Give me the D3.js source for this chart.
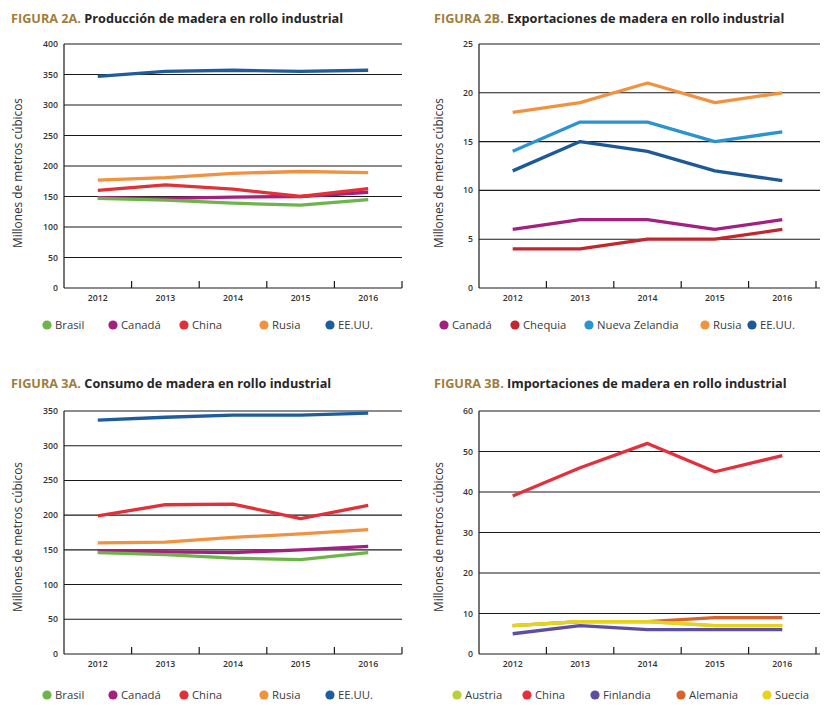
<!DOCTYPE html>
<html><head><meta charset="utf-8">
<script src="https://cdn.jsdelivr.net/npm/d3@7"></script>
<style>body{margin:0;background:#fff}svg{display:block}</style>
</head><body>
<svg id="c" width="824" height="706"></svg>
<script>
const years = ["2012","2013","2014","2015","2016"];

// FIGURA 2A - Producción
const prodSeries = ["Brasil","Canadá","China","Rusia","EE.UU."];
const prodBrasil = [147,144,139,136,145];
const prodCanada = [148,147,149,150,157];
const prodChina  = [160,169,162,150,163];
const prodRusia  = [177,181,188,191,189];
const prodEEUU   = [347,355,357,355,357];
const prodTicks  = [0,50,100,150,200,250,300,350,400];

// FIGURA 2B - Exportaciones
const expSeries = ["Canadá","Chequia","Nueva Zelandia","Rusia","EE.UU."];
const expCanada  = [6,7,7,6,7];
const expChequia = [4,4,5,5,6];
const expNZ      = [14,17,17,15,16];
const expRusia   = [18,19,21,19,20];
const expEEUU    = [12,15,14,12,11];
const expTicks   = [0,5,10,15,20,25];

// FIGURA 3A - Consumo
const conSeries = ["Brasil","Canadá","China","Rusia","EE.UU."];
const conBrasil = [146,143,138,136,146];
const conCanada = [148,147,146,150,155];
const conChina  = [199,215,216,195,214];
const conRusia  = [160,161,168,173,179];
const conEEUU   = [337,341,344,344,347];
const conTicks  = [0,50,100,150,200,250,300,350];

// FIGURA 3B - Importaciones
const impSeries = ["Austria","China","Finlandia","Alemania","Suecia"];
const impAustria  = [7,8,8,7,7];
const impChina    = [39,46,52,45,49];
const impFinland  = [5,7,6,6,6];
const impAlemania = [7,8,8,9,9];
const impSuecia   = [7,8,8,7,7];
const impTicks    = [0,10,20,30,40,50,60];

const svg = d3.select("#c");
const FONT = "'Open Sans', 'Noto Sans', sans-serif";

function panel(o){
  const g = svg.append("g");
  // title
  const t = g.append("text").attr("x", o.tx).attr("y", o.ty)
    .attr("font-family", FONT).attr("font-weight", 700).attr("font-size", 12.7);
  t.append("tspan").attr("fill", "#a07d3c").text(o.fig + ". ");
  t.append("tspan").attr("fill", "#262626").text(o.title);

  const x = d3.scaleBand().domain(years).range([o.x0, o.x1]);
  const y = d3.scaleLinear().domain([0, o.ticks[o.ticks.length-1]]).range([o.y0, o.y1]);

  // gridlines
  g.append("g").selectAll("line").data(o.ticks).join("line")
    .attr("x1", o.x0).attr("x2", o.gx1)
    .attr("y1", d => y(d)).attr("y2", d => y(d))
    .attr("stroke", "#1a1a1a").attr("stroke-width", 1.1);
  // y axis line
  g.append("line").attr("x1", o.x0).attr("x2", o.x0).attr("y1", y(o.ticks[o.ticks.length-1])).attr("y2", o.y0)
    .attr("stroke", "#1a1a1a").attr("stroke-width", 1.2);
  // y tick labels
  g.append("g").selectAll("text").data(o.ticks).join("text")
    .attr("x", o.x0 - 6).attr("y", d => y(d) + 3)
    .attr("text-anchor", "end").attr("font-family", FONT).attr("font-size", 8.7)
    .attr("font-weight", 600).attr("fill", "#333").text(d => d);
  // x ticks at band boundaries (upward)
  g.append("g").selectAll("line").data(years).join("line")
    .attr("x1", d => x(d) + x.bandwidth()).attr("x2", d => x(d) + x.bandwidth())
    .attr("y1", o.y0).attr("y2", o.y0 - 7)
    .attr("stroke", "#1a1a1a").attr("stroke-width", 1.2);
  // x labels
  g.append("g").selectAll("text").data(years).join("text")
    .attr("x", d => x(d) + x.bandwidth()/2).attr("y", o.y0 + 13)
    .attr("text-anchor", "middle").attr("font-family", FONT).attr("font-size", 8.7)
    .attr("font-weight", 600).attr("fill", "#333").text(d => d);
  // y axis title
  g.append("text").attr("transform", `translate(${o.ylx},${o.yly}) rotate(-90)`)
    .attr("text-anchor", "middle").attr("font-family", FONT).attr("font-size", 11.8)
    .attr("fill", "#333").text("Millones de metros cúbicos");

  // lines
  const line = d3.line().x((d,i) => x(years[i]) + x.bandwidth()/2).y(d => y(d));
  o.order.forEach(k => {
    const s = o.series[k];
    g.append("path").attr("d", line(s.values)).attr("fill", "none")
      .attr("stroke", s.color).attr("stroke-width", 3.3)
      .attr("stroke-linejoin", "round").attr("stroke-linecap", "butt");
  });

  // legend
  o.names.forEach((n, i) => {
    const s = o.series[i];
    g.append("circle").attr("cx", o.legX[i]).attr("cy", o.legY).attr("r", 4.6).attr("fill", s.color);
    g.append("text").attr("x", o.legX[i] + 8).attr("y", o.legY + 4.3)
      .attr("font-family", FONT).attr("font-size", 11.3).attr("fill", "#3a3a3a").text(n);
  });
}

const cGreen = "#6db54a", cPurple = "#a3207f", cRed = "#e03139", cOrange = "#f0923f", cBlue = "#1f5c9e";

panel({
  fig: "FIGURA 2A", title: "Producción de madera en rollo industrial", tx: 11, ty: 23,
  x0: 64, x1: 402, gx1: 402, y0: 288, y1: 44, ticks: prodTicks, ylx: 22, yly: 173,
  names: prodSeries,
  series: [
    {values: prodBrasil, color: cGreen},
    {values: prodCanada, color: cPurple},
    {values: prodChina, color: cRed},
    {values: prodRusia, color: cOrange},
    {values: prodEEUU, color: cBlue}
  ],
  order: [1,2,0,3,4],
  legX: [47,113,184,264,330], legY: 325
});

panel({
  fig: "FIGURA 2B", title: "Exportaciones de madera en rollo industrial", tx: 434, ty: 23,
  x0: 479, x1: 816, gx1: 820, y0: 288, y1: 44, ticks: expTicks, ylx: 443, yly: 173,
  names: expSeries,
  series: [
    {values: expCanada, color: cPurple},
    {values: expChequia, color: "#c4262e"},
    {values: expNZ, color: "#2b93cf"},
    {values: expRusia, color: cOrange},
    {values: expEEUU, color: "#1d5997"}
  ],
  order: [0,1,2,3,4],
  legX: [444,515,589,705,752], legY: 325
});

panel({
  fig: "FIGURA 3A", title: "Consumo de madera en rollo industrial", tx: 11, ty: 388,
  x0: 64, x1: 402, gx1: 402, y0: 654, y1: 411, ticks: conTicks, ylx: 22, yly: 537,
  names: conSeries,
  series: [
    {values: conBrasil, color: cGreen},
    {values: conCanada, color: cPurple},
    {values: conChina, color: cRed},
    {values: conRusia, color: cOrange},
    {values: conEEUU, color: cBlue}
  ],
  order: [1,0,3,2,4],
  legX: [47,113,184,264,330], legY: 695
});

panel({
  fig: "FIGURA 3B", title: "Importaciones de madera en rollo industrial", tx: 434, ty: 388,
  x0: 479, x1: 816, gx1: 820, y0: 654, y1: 411, ticks: impTicks, ylx: 443, yly: 537,
  names: impSeries,
  series: [
    {values: impAustria, color: "#b9cf3b"},
    {values: impChina, color: "#e3303b"},
    {values: impFinland, color: "#5a4fa2"},
    {values: impAlemania, color: "#d8622b"},
    {values: impSuecia, color: "#e5d320"}
  ],
  order: [1,3,0,2,4],
  legX: [457,527,595,681,767], legY: 695
});
</script>
</body></html>
